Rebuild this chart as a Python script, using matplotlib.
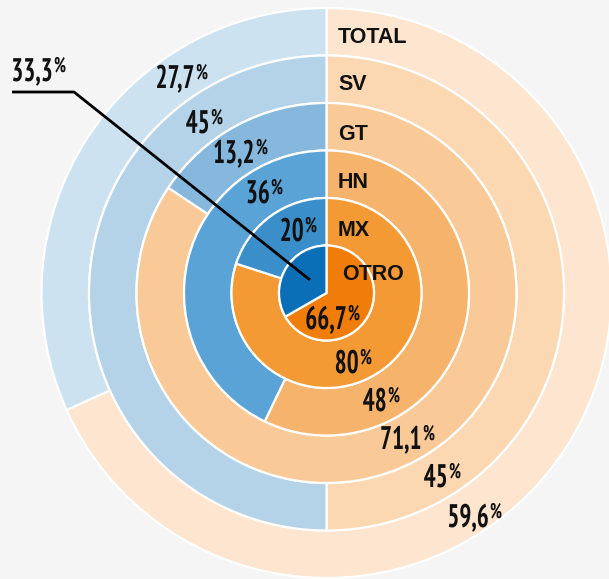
import os
import matplotlib
matplotlib.use("Agg")
import matplotlib.pyplot as plt
from matplotlib import font_manager as fm
from matplotlib import patheffects
from matplotlib.transforms import Affine2D

# rings from the outside in
rings = ["TOTAL", "SV", "GT", "HN", "MX", "OTRO"]
blue_vals = [27.7, 45, 13.2, 36, 20, 33.3]
orange_vals = [59.6, 45, 71.1, 48, 80, 66.7]
blue_labels = ["27,7", "45", "13,2", "36", "20", "33,3"]
orange_labels = ["59,6", "45", "71,1", "48", "80", "66,7"]

blue_cols = ["#cde2f1", "#b4d3e8", "#86b8de", "#5aa3d6", "#3a8fcb", "#0b6fb7"]
orange_cols = ["#fde5cf", "#fbd8b1", "#f9ca98", "#f6b36b", "#f39a35", "#f07d0a"]

W, H = 609, 579


def py(y):
    # pixel row (from top) -> data y
    return H - y


def condensed_font():
    # look for a narrow / condensed bold face
    found = []
    for f in fm.fontManager.ttflist:
        fn = os.path.basename(f.fname).lower()
        if ("narrow" in fn or "condensed" in fn) and "bold" in fn \
                and "italic" not in fn and "oblique" not in fn:
            found.append(f.fname)
    found.sort(key=lambda p: (0 if "narrow" in p.lower() else 1))
    if found:
        return fm.FontProperties(fname=found[0]), True
    return fm.FontProperties(family="Liberation Sans", weight="bold"), False


class Squeeze(patheffects.AbstractPathEffect):
    """Draw text narrower, keeping its left or right edge in place."""

    def __init__(self, sx, keep="right"):
        super().__init__()
        self.sx = sx
        self.keep = keep

    def draw_path(self, renderer, gc, tpath, affine, rgbFace=None):
        ext = tpath.get_extents()
        x0 = ext.x1 if self.keep == "right" else ext.x0
        squeeze = Affine2D().translate(-x0, 0).scale(self.sx, 1).translate(x0, 0)
        renderer.draw_path(gc, tpath, squeeze + affine, rgbFace)


num_fp, narrow = condensed_font()
sx = 0.77 if narrow else 0.6

fig = plt.figure(figsize=(W / 100, H / 100), dpi=100)
fig.patch.set_facecolor("#f5f5f5")
ax = fig.add_axes([0, 0, 1, 1])
ax.set_facecolor("#f5f5f5")

cx, cy = 326.5, py(293)
r_out = 285
ring_w = r_out / len(rings)

for i, name in enumerate(rings):
    r = r_out - i * ring_w
    width = ring_w if i < len(rings) - 1 else None
    ax.pie([orange_vals[i], blue_vals[i]], radius=r, center=(cx, cy),
           startangle=90, counterclock=False,
           colors=[orange_cols[i], blue_cols[i]],
           wedgeprops=dict(width=width, edgecolor="white", linewidth=1.6))

# ring names (baseline positions in pixels)
name_pos = [(338, 43), (338, 90), (338, 140), (338, 188), (338, 236), (342, 280)]
for name, (x, y) in zip(rings, name_pos):
    ax.text(x, py(y), name, fontsize=15.5, fontweight="bold",
            family="Liberation Sans", color="#111111", ha="left", va="baseline")

# percentage labels: right edge of the digits and their baseline, in pixels
blue_pos = [(195, 88), (210, 133), (255, 163), (270, 203), (304, 241), (53, 81)]
orange_pos = [(489, 527), (448, 487), (422, 449), (387, 411), (359, 373), (347, 329)]

num_size = 23.5
pct_size = 15.5
sq_num = [Squeeze(sx, "right")]
sq_pct = [Squeeze(sx, "left")]


def pct_label(x, y, s):
    t = ax.text(x, py(y), s, fontproperties=num_fp, fontsize=num_size,
                color="#111111", ha="right", va="baseline", zorder=5,
                path_effects=sq_num)
    ax.annotate("%", xy=(1, 1), xycoords=t, xytext=(0.6, 0.5),
                textcoords="offset points", fontproperties=num_fp,
                fontsize=pct_size, color="#111111", ha="left", va="top",
                zorder=5, path_effects=sq_pct)


for s, (x, y) in zip(blue_labels, blue_pos):
    pct_label(x, y, s)
for s, (x, y) in zip(orange_labels, orange_pos):
    pct_label(x, y, s)

# leader line for the OTRO blue share
ax.plot([12, 74, 310], [py(92), py(92), py(280)], color="black", lw=2,
        solid_capstyle="butt", zorder=4)

ax.set_xlim(0, W)
ax.set_ylim(0, H)
ax.set_aspect("equal")
ax.axis("off")

fig.savefig("out.png", dpi=100, facecolor=fig.get_facecolor())
